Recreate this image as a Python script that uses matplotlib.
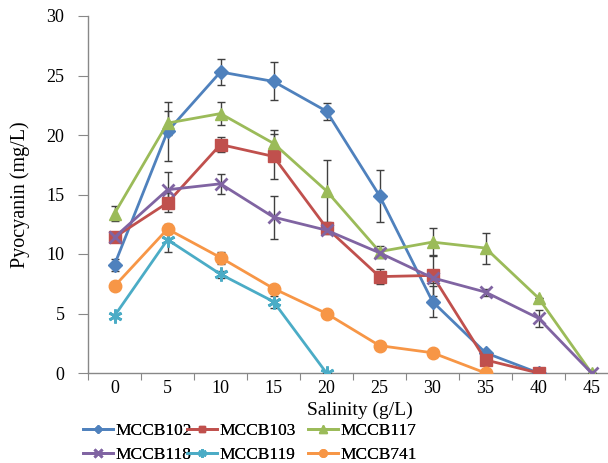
import numpy as np
import matplotlib
matplotlib.use("Agg")
import matplotlib.pyplot as plt

plt.rcParams['font.family'] = ['Liberation Serif', 'DejaVu Serif']

salinity = ['0', '5', '10', '15', '20', '25', '30', '35', '40', '45']

# values (mg/L), with error bar half-widths
mccb102 = [9.1, 20.3, 25.3, 24.5, 22.0, 14.9, 6.0, 1.7, 0.0]
mccb102_err = [0.5, 2.5, 1.1, 1.6, 0.7, 2.2, 1.3, 0.0, 0.0]
mccb103 = [11.4, 14.3, 19.2, 18.2, 12.2, 8.1, 8.2, 1.1, 0.0]
mccb103_err = [0.0, 0.8, 0.6, 1.9, 0.4, 0.6, 1.7, 0.0, 0.0]
mccb117 = [13.4, 21.0, 21.8, 19.3, 15.3, 10.2, 11.0, 10.5, 6.3, 0.0]
mccb117_err = [0.6, 1.0, 1.0, 1.1, 2.6, 0.5, 1.2, 1.3, 0.0, 0.0]
mccb118 = [11.4, 15.4, 15.9, 13.1, 12.0, 10.1, 8.0, 6.8, 4.6, 0.0]
mccb118_err = [0.0, 1.5, 0.85, 1.8, 0.3, 0.3, 0.4, 0.3, 0.7, 0.0]
mccb119 = [4.8, 11.2, 8.3, 6.0, 0.0]
mccb119_err = [0.2, 1.0, 0.3, 0.5, 0.0]
mccb741 = [7.3, 12.1, 9.7, 7.1, 5.0, 2.3, 1.7, 0.0]
mccb741_err = [0.0, 0.4, 0.5, 0.0, 0.0, 0.0, 0.0, 0.0]

series = [
    ('MCCB102', mccb102, mccb102_err, '#4F81BD', 'D', 7),
    ('MCCB103', mccb103, mccb103_err, '#C0504D', 's', 8),
    ('MCCB117', mccb117, mccb117_err, '#9BBB59', '^', 9),
    ('MCCB118', mccb118, mccb118_err, '#8064A2', 'x', 9),
    ('MCCB119', mccb119, mccb119_err, '#4BACC6', (6, 2, 0), 10),
    ('MCCB741', mccb741, mccb741_err, '#F79646', 'o', 9),
]

fig = plt.figure(figsize=(6.08, 4.63), dpi=100)
ax = fig.add_axes([88/608, 90/463, 530/608, 357/463])

handles = {}
for name, vals, err, col, mk, ms in series:
    x = np.arange(len(vals))
    ax.errorbar(x, vals, yerr=err, fmt='none', ecolor='#404040',
                elinewidth=1, capsize=3, capthick=1, zorder=3)
    ln, = ax.plot(x, vals, color=col, lw=2, marker=mk, ms=ms,
                  mec=col, mfc=col, mew=2 if mk in ('x', (6, 2, 0)) else 1,
                  zorder=4, label=name)
    handles[name] = ln

ax.set_ylim(0, 30)
ax.set_xlim(-0.5, len(salinity) - 0.5)
ax.set_yticks(range(0, 31, 5))
ax.set_xticks(np.arange(-0.5, len(salinity), 1.0))
ax.set_xticklabels([])
ax.set_xticks(range(len(salinity)), minor=True)
ax.set_xticklabels(salinity, minor=True)
ax.tick_params(axis='x', which='major', direction='out', length=5, color='#888888')
ax.tick_params(axis='x', which='minor', length=0, pad=5, labelsize=13)
ax.tick_params(axis='y', direction='out', length=7, color='#888888',
               pad=10, labelsize=13)

for s in ('top', 'right'):
    ax.spines[s].set_visible(False)
for s in ('left', 'bottom'):
    ax.spines[s].set_color('#888888')
    ax.spines[s].set_linewidth(1)

ax.set_ylabel('Pyocyanin (mg/L)', fontsize=14.5, labelpad=12)
ax.set_xlabel('Salinity (g/L)', fontsize=14)
ax.xaxis.set_label_coords((360 - 88) / 530, -0.08)

# legend: three two-row columns placed like the original
columns = [(['MCCB102', 'MCCB118'], 83), (['MCCB103', 'MCCB119'], 187),
           (['MCCB117', 'MCCB741'], 308)]
for names, x0 in columns:
    leg = fig.legend([handles[n] for n in names], names, loc='center left',
                     bbox_to_anchor=(x0/608, (463 - 443)/463), frameon=False,
                     fontsize=12.5, handlelength=1.7, handletextpad=0.15,
                     labelspacing=0.45, markerscale=0.6, borderpad=0,
                     borderaxespad=0)
    fig.add_artist(leg)

fig.savefig('out.png', dpi=100)
